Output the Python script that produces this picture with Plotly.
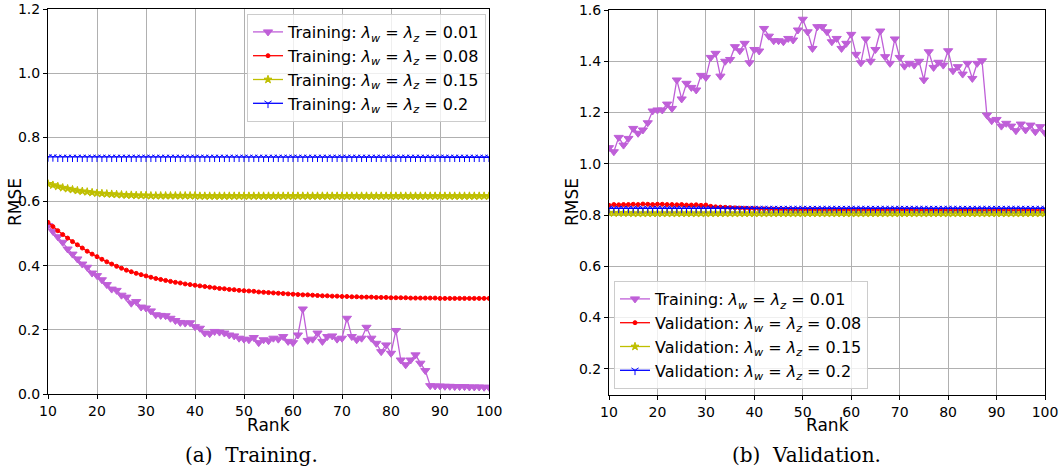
import plotly.graph_objects as go

ranks = list(range(10, 101))

train_001 = [0.525, 0.507, 0.490, 0.473, 0.452, 0.436, 0.421, 0.405, 0.395, 0.377, 0.369,
             0.356, 0.341, 0.327, 0.323, 0.308, 0.302, 0.283, 0.288, 0.271, 0.268,
             0.259, 0.247, 0.245, 0.244, 0.236, 0.229, 0.223, 0.221, 0.222, 0.210,
             0.205, 0.190, 0.188, 0.195, 0.193, 0.190, 0.184, 0.181, 0.174, 0.171,
             0.169, 0.176, 0.160, 0.169, 0.166, 0.174, 0.171, 0.179, 0.164, 0.160,
             0.184, 0.265, 0.167, 0.171, 0.190, 0.164, 0.179, 0.181, 0.171, 0.174,
             0.236, 0.179, 0.169, 0.174, 0.208, 0.174, 0.158, 0.132, 0.153, 0.127,
             0.198, 0.106, 0.091, 0.106, 0.122, 0.096, 0.073, 0.026, 0.025, 0.025,
             0.024, 0.024, 0.023, 0.023, 0.023, 0.022, 0.022, 0.022, 0.021, 0.021]

train_008 = [0.535, 0.522, 0.509, 0.497, 0.486, 0.475, 0.465, 0.455, 0.445, 0.436, 0.428,
             0.420, 0.412, 0.405, 0.398, 0.392, 0.386, 0.381, 0.376, 0.372, 0.368,
             0.364, 0.360, 0.357, 0.354, 0.351, 0.348, 0.346, 0.343, 0.341, 0.339,
             0.337, 0.335, 0.333, 0.331, 0.329, 0.328, 0.326, 0.325, 0.323, 0.322,
             0.321, 0.320, 0.318, 0.317, 0.316, 0.315, 0.314, 0.313, 0.312, 0.311,
             0.310, 0.309, 0.309, 0.308, 0.307, 0.306, 0.306, 0.305, 0.305, 0.304,
             0.304, 0.303, 0.303, 0.302, 0.302, 0.302, 0.301, 0.301, 0.301, 0.300,
             0.300, 0.300, 0.300, 0.299, 0.299, 0.299, 0.299, 0.299, 0.299, 0.298,
             0.298, 0.298, 0.298, 0.298, 0.298, 0.298, 0.298, 0.298, 0.298, 0.298]

train_015 = [0.655, 0.651, 0.647, 0.643, 0.640, 0.637, 0.634, 0.632, 0.630, 0.628, 0.626,
             0.625, 0.624, 0.623, 0.622, 0.621, 0.620, 0.620, 0.619, 0.619, 0.619,
             0.618, 0.618, 0.618, 0.618, 0.618, 0.618, 0.618, 0.618, 0.618, 0.618,
             0.617, 0.617, 0.617, 0.617, 0.617, 0.617, 0.617, 0.617, 0.617, 0.617,
             0.617, 0.617, 0.617, 0.617, 0.617, 0.617, 0.617, 0.617, 0.617, 0.617,
             0.617, 0.617, 0.617, 0.617, 0.617, 0.617, 0.617, 0.617, 0.617, 0.617,
             0.617, 0.617, 0.617, 0.617, 0.617, 0.617, 0.617, 0.617, 0.617, 0.617,
             0.617, 0.617, 0.617, 0.617, 0.617, 0.617, 0.617, 0.617, 0.617, 0.617,
             0.617, 0.617, 0.617, 0.617, 0.617, 0.617, 0.617, 0.617, 0.617, 0.617]

train_020 = [0.739, 0.739, 0.738, 0.738, 0.738, 0.738, 0.738, 0.738, 0.738, 0.738, 0.738,
             0.738, 0.738, 0.738, 0.738, 0.738, 0.738, 0.738, 0.738, 0.738, 0.738,
             0.738, 0.738, 0.738, 0.738, 0.738, 0.738, 0.738, 0.738, 0.738, 0.738,
             0.738, 0.738, 0.738, 0.738, 0.738, 0.738, 0.738, 0.738, 0.738, 0.738,
             0.738, 0.738, 0.738, 0.738, 0.738, 0.738, 0.738, 0.738, 0.738, 0.738,
             0.738, 0.738, 0.738, 0.738, 0.738, 0.738, 0.738, 0.738, 0.738, 0.738,
             0.738, 0.738, 0.738, 0.738, 0.738, 0.738, 0.738, 0.738, 0.738, 0.738,
             0.738, 0.738, 0.738, 0.738, 0.738, 0.738, 0.738, 0.738, 0.738, 0.738,
             0.738, 0.738, 0.738, 0.738, 0.738, 0.738, 0.738, 0.738, 0.738, 0.738]

valtrain_001 = [1.063, 1.047, 1.103, 1.073, 1.099, 1.138, 1.119, 1.132, 1.160, 1.206, 1.210,
                1.210, 1.233, 1.216, 1.327, 1.253, 1.314, 1.298, 1.288, 1.345, 1.337,
                1.415, 1.431, 1.342, 1.400, 1.407, 1.457, 1.441, 1.470, 1.394, 1.446,
                1.440, 1.528, 1.498, 1.480, 1.480, 1.476, 1.489, 1.483, 1.522, 1.564,
                1.515, 1.450, 1.535, 1.535, 1.515, 1.476, 1.489, 1.450, 1.470, 1.505,
                1.427, 1.394, 1.487, 1.400, 1.446, 1.518, 1.418, 1.392, 1.487, 1.415,
                1.381, 1.392, 1.385, 1.400, 1.327, 1.437, 1.376, 1.396, 1.385, 1.441,
                1.363, 1.379, 1.350, 1.392, 1.333, 1.392, 1.402, 1.190, 1.168, 1.173,
                1.147, 1.158, 1.147, 1.129, 1.155, 1.132, 1.151, 1.125, 1.145, 1.121]

val_008 = [0.838, 0.841, 0.840, 0.841, 0.841, 0.842, 0.841, 0.843, 0.842, 0.841, 0.842,
           0.842, 0.841, 0.841, 0.840, 0.841, 0.839, 0.839, 0.840, 0.838, 0.839,
           0.834, 0.832, 0.831, 0.830, 0.829, 0.828, 0.827, 0.826, 0.825, 0.825,
           0.824, 0.824, 0.823, 0.823, 0.822, 0.822, 0.822, 0.821, 0.821, 0.821,
           0.821, 0.821, 0.821, 0.820, 0.820, 0.820, 0.820, 0.820, 0.820, 0.820,
           0.820, 0.820, 0.820, 0.820, 0.820, 0.820, 0.820, 0.820, 0.820, 0.820,
           0.820, 0.820, 0.820, 0.819, 0.819, 0.819, 0.819, 0.819, 0.819, 0.819,
           0.819, 0.819, 0.819, 0.819, 0.819, 0.819, 0.819, 0.819, 0.819, 0.819,
           0.819, 0.819, 0.819, 0.819, 0.819, 0.819, 0.819, 0.819, 0.819, 0.819]

val_015 = [0.809, 0.808, 0.808, 0.808, 0.808, 0.807, 0.807, 0.807, 0.807, 0.807, 0.807,
           0.807, 0.807, 0.807, 0.807, 0.807, 0.807, 0.807, 0.807, 0.807, 0.807,
           0.807, 0.807, 0.807, 0.807, 0.807, 0.807, 0.807, 0.807, 0.807, 0.807,
           0.807, 0.807, 0.807, 0.807, 0.807, 0.807, 0.807, 0.807, 0.807, 0.807,
           0.807, 0.807, 0.807, 0.807, 0.807, 0.807, 0.807, 0.807, 0.807, 0.807,
           0.807, 0.807, 0.807, 0.807, 0.807, 0.807, 0.807, 0.807, 0.807, 0.807,
           0.807, 0.807, 0.807, 0.807, 0.807, 0.807, 0.807, 0.807, 0.807, 0.807,
           0.807, 0.807, 0.807, 0.807, 0.807, 0.807, 0.807, 0.807, 0.807, 0.807,
           0.807, 0.807, 0.807, 0.807, 0.807, 0.807, 0.807, 0.807, 0.807, 0.807]

val_020 = [0.826, 0.826, 0.826, 0.826, 0.826, 0.826, 0.826, 0.826, 0.826, 0.826, 0.826,
           0.826, 0.826, 0.826, 0.826, 0.826, 0.826, 0.826, 0.826, 0.826, 0.826,
           0.826, 0.826, 0.826, 0.826, 0.826, 0.826, 0.826, 0.826, 0.826, 0.826,
           0.826, 0.826, 0.826, 0.826, 0.826, 0.826, 0.826, 0.826, 0.826, 0.826,
           0.826, 0.826, 0.826, 0.826, 0.826, 0.826, 0.826, 0.826, 0.826, 0.826,
           0.826, 0.826, 0.826, 0.826, 0.826, 0.826, 0.826, 0.826, 0.826, 0.826,
           0.826, 0.826, 0.826, 0.826, 0.826, 0.826, 0.826, 0.826, 0.826, 0.826,
           0.826, 0.826, 0.826, 0.826, 0.826, 0.826, 0.826, 0.826, 0.826, 0.826,
           0.826, 0.826, 0.826, 0.826, 0.826, 0.826, 0.826, 0.826, 0.826, 0.826]

lam = "<i>λ<sub>w</sub></i> = <i>λ<sub>z</sub></i> = "

PURPLE = "#BF5FD8"
RED = "#FF0000"
YELLOW = "#BFBF00"
BLUE = "#0000FF"

styles = [
    (PURPLE, "triangle-down", 8),
    (RED, "circle", 4),
    (YELLOW, "star", 6),
    (BLUE, "y-down-open", 6),
]

W, H = 1060, 472


def px(x):
    return x / W


def py(y):
    return 1 - y / H


fig = go.Figure()

left_series = [("Training: " + lam + "0.01", train_001),
               ("Training: " + lam + "0.08", train_008),
               ("Training: " + lam + "0.15", train_015),
               ("Training: " + lam + "0.2", train_020)]
right_series = [("Training: " + lam + "0.01", valtrain_001),
                ("Validation: " + lam + "0.08", val_008),
                ("Validation: " + lam + "0.15", val_015),
                ("Validation: " + lam + "0.2", val_020)]

for (name, ys), (col, sym, sz) in zip(left_series, styles):
    fig.add_trace(go.Scatter(
        x=ranks, y=ys, mode="lines+markers", name=name,
        line=dict(color=col, width=1.3),
        marker=dict(symbol=sym, size=sz, color=col, line=dict(color=col, width=1)),
        xaxis="x", yaxis="y", legend="legend"))

for (name, ys), (col, sym, sz) in zip(right_series, styles):
    fig.add_trace(go.Scatter(
        x=ranks, y=ys, mode="lines+markers", name=name,
        line=dict(color=col, width=1.3),
        marker=dict(symbol=sym, size=sz, color=col, line=dict(color=col, width=1)),
        xaxis="x2", yaxis="y2", legend="legend2"))

axis_common = dict(
    showline=True, linecolor="black", linewidth=1, mirror=True,
    showgrid=True, gridcolor="#b0b0b0", gridwidth=1,
    ticks="outside", ticklen=4, tickcolor="black",
    tickfont=dict(family="DejaVu Sans", size=14, color="black"),
    zeroline=False, automargin=False,
)
title_font = dict(family="DejaVu Sans", size=17, color="black")
cap_font = dict(family="DejaVu Serif", size=20, color="black")
legend_font = dict(family="DejaVu Sans", size=16, color="black")


def ann(text, x, y, font, angle=0):
    return dict(text=text, x=px(x), y=py(y), xref="paper", yref="paper",
                xanchor="center", yanchor="middle", showarrow=False,
                textangle=angle, font=font)


fig.update_layout(
    width=W, height=H,
    margin=dict(l=0, r=0, t=0, b=0, autoexpand=False),
    paper_bgcolor="white", plot_bgcolor="white",
    xaxis=dict(domain=[px(48), px(489)], range=[10, 100], dtick=10, tick0=10,
               anchor="y", **axis_common),
    yaxis=dict(domain=[py(394), py(9)], range=[0, 1.2], dtick=0.2, tickformat=".1f",
               anchor="x", **axis_common),
    xaxis2=dict(domain=[px(609), px(1045)], range=[10, 100], dtick=10, tick0=10,
                anchor="y2", **axis_common),
    yaxis2=dict(domain=[py(395), py(10)], range=[0.098, 1.6],
                tickvals=[0.2, 0.4, 0.6, 0.8, 1.0, 1.2, 1.4, 1.6],
                tickformat=".1f", anchor="x2", **axis_common),
    legend=dict(x=px(486), y=py(14), xanchor="right", yanchor="top",
                bgcolor="rgba(255,255,255,0.8)", bordercolor="#cccccc", borderwidth=1,
                font=legend_font, tracegroupgap=0, itemwidth=30),
    legend2=dict(x=px(614), y=py(389), xanchor="left", yanchor="bottom",
                 bgcolor="rgba(255,255,255,0.8)", bordercolor="#cccccc", borderwidth=1,
                 font=legend_font, tracegroupgap=0, itemwidth=30),
    annotations=[
        ann("RMSE", 15, 202, title_font, -90),
        ann("RMSE", 572, 202, title_font, -90),
        ann("Rank", 268.5, 425, title_font),
        ann("Rank", 827, 425, title_font),
        ann("(a)  Training.", 251, 455, cap_font),
        ann("(b)  Validation.", 806, 455, cap_font),
    ],
)

fig.write_html("out.html",
               config={"displayModeBar": False},
               post_script="document.body.style.margin='0';document.body.style.padding='0';")
